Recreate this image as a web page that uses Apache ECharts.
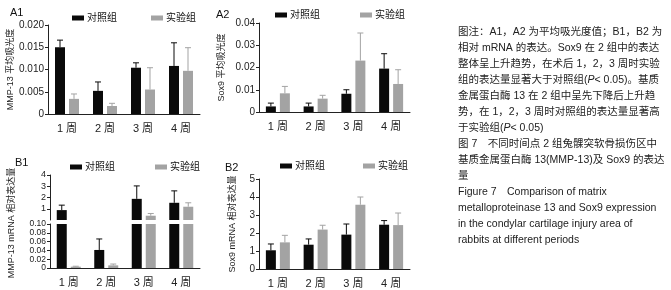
<!DOCTYPE html>
<html><head><meta charset="utf-8">
<script src="https://cdn.jsdelivr.net/npm/echarts@6/dist/echarts.min.js"></script>
<style>html,body{margin:0;padding:0;background:#fff}#c{width:671px;height:290px}</style>
</head><body><div id="c"></div>
<script>
const categories = ['1 周', '2 周', '3 周', '4 周'];
const groups = ['对照组', '实验组'];
// A1: MMP-13 mean optical density
const a1Control = [0.0150, 0.0052, 0.0104, 0.0108];
const a1ControlSD = [0.0016, 0.0020, 0.0011, 0.0052];
const a1Exp = [0.0034, 0.0018, 0.0055, 0.0097];
const a1ExpSD = [0.0011, 0.0006, 0.0049, 0.0052];
// A2: Sox9 mean optical density
const a2Control = [0.0025, 0.0025, 0.0082, 0.0195];
const a2ControlSD = [0.0015, 0.0015, 0.0018, 0.0067];
const a2Exp = [0.0084, 0.0060, 0.0231, 0.0126];
const a2ExpSD = [0.0031, 0.0015, 0.0124, 0.0064];
// B1: MMP-13 mRNA relative expression
const b1Control = [0.88, 0.041, 1.88, 1.53];
const b1ControlSD = [0.44, 0.025, 1.15, 1.06];
const b1Exp = [0.003, 0.006, 0.38, 1.18];
const b1ExpSD = [0.001, 0.003, 0.20, 0.35];
// B2: Sox9 mRNA relative expression
const b2Control = [1.04, 1.35, 1.91, 2.46];
const b2ControlSD = [0.35, 0.32, 0.59, 0.23];
const b2Exp = [1.48, 2.19, 3.57, 2.44];
const b2ExpSD = [0.39, 0.24, 0.43, 0.67];
// tick labels
const a1Ticks = [0, 0.005, 0.010, 0.015, 0.020];
const a2Ticks = [0, 0.01, 0.02, 0.03, 0.04];
const b1TopTicks = [1, 2, 3, 4];
const b1BottomTicks = [0, 0.02, 0.04, 0.06, 0.08, 0.10];
const b2Ticks = [0, 1, 2, 3, 4, 5];

const captionLines = [
  [{t:'图注：A1，A2 为平均吸光度值；B1，B2 为'}],
  [{t:'相对 mRNA 的表达。Sox9 在 2 组中的表达'}],
  [{t:'整体呈上升趋势，在术后 1，2，3 周时实验'}],
  [{t:'组的表达量显著大于对照组('},{t:'P',i:1},{t:'< 0.05)。基质'}],
  [{t:'金属蛋白酶 13 在 2 组中呈先下降后上升趋'}],
  [{t:'势，在 1，2，3 周时对照组的表达量显著高'}],
  [{t:'于实验组('},{t:'P',i:1},{t:'< 0.05)'}],
  [{t:'图 7　不同时间点 2 组兔髁突软骨损伤区中'}],
  [{t:'基质金属蛋白酶 13(MMP-13)及 Sox9 的表达'}],
  [{t:'量'}],
  [{t:'Figure 7　Comparison of matrix'}],
  [{t:'metalloproteinase 13 and Sox9 expression'}],
  [{t:'in the condylar cartilage injury area of'}],
  [{t:'rabbits at different periods'}]
];

const FONT = '"Liberation Sans", Arial, "Noto Sans CJK SC", sans-serif';
const BLACK = '#0a0a0a', GREY = '#a3a3a3';

const chart = echarts.init(document.getElementById('c'));

function xAx(grid, show) {
  return {
    type: 'category', gridIndex: grid, data: categories, show: show,
    axisLine: {lineStyle: {color: '#222', width: 1}},
    axisTick: {show: false},
    axisLabel: {fontSize: 11, color: '#222', fontFamily: FONT, margin: 9}
  };
}
function yAx(grid, ticks, fmt, fs, extra) {
  const interval = ticks[1] - ticks[0];
  return Object.assign({
    type: 'value', gridIndex: grid, min: 0,
    max: ticks[ticks.length - 1], interval: interval,
    axisLine: {show: true, lineStyle: {color: '#222', width: 1}},
    axisTick: {show: true, length: 3, lineStyle: {color: '#222'}, customValues: ticks},
    splitLine: {show: false},
    axisLabel: {fontSize: fs, lineHeight: fs - 1, color: '#222', fontFamily: FONT, margin: 4, formatter: fmt,
      interval: 0, customValues: ticks, showMinLabel: true, showMaxLabel: true, hideOverlap: false},
    nameTextStyle: {fontSize: 9, color: '#222', fontFamily: FONT}
  }, extra || {});
}

function errRender(offset, color, lo, hi) {
  return function (params, api) {
    const i = api.value(0), m = api.value(1), s = api.value(2);
    if (m < lo || m > hi) return null;
    const top = Math.min(m + s, hi);
    const p0 = api.coord([i, m]);
    const p1 = api.coord([i, top]);
    const x = p0[0] + offset;
    return {
      type: 'group', children: [
        {type: 'line', shape: {x1: x, y1: p0[1], x2: x, y2: p1[1]}, style: {stroke: color, lineWidth: 1}},
        {type: 'line', shape: {x1: x - 3, y1: p1[1], x2: x + 3, y2: p1[1]}, style: {stroke: color, lineWidth: 1}}
      ]
    };
  };
}

function barPair(axisIdx, ctrl, exp, clipMin) {
  const filt = (arr) => arr.map(v => (clipMin != null && v < clipMin) ? null : v);
  return [
    {name: groups[0], type: 'bar', xAxisIndex: axisIdx, yAxisIndex: axisIdx, data: filt(ctrl),
     barWidth: 10, barGap: '40%', itemStyle: {color: BLACK}, clip: true, silent: true},
    {name: groups[1], type: 'bar', xAxisIndex: axisIdx, yAxisIndex: axisIdx, data: filt(exp),
     barWidth: 10, barGap: '40%', itemStyle: {color: GREY}, clip: true, silent: true}
  ];
}
function errPair(axisIdx, ctrl, ctrlSD, exp, expSD, lo, hi) {
  const mk = (m, s) => m.map((v, i) => [i, v, s[i]]);
  return [
    {type: 'custom', xAxisIndex: axisIdx, yAxisIndex: axisIdx, data: mk(ctrl, ctrlSD), z: 3, silent: true,
     encode: {x: 0, y: 1}, renderItem: errRender(-7, BLACK, lo, hi)},
    {type: 'custom', xAxisIndex: axisIdx, yAxisIndex: axisIdx, data: mk(exp, expSD), z: 3, silent: true,
     encode: {x: 0, y: 1}, renderItem: errRender(7, GREY, lo, hi)}
  ];
}

function legend(left, top, gap) {
  return {
    left: left, top: top, itemGap: gap, icon: 'rect', itemWidth: 12, itemHeight: 5,
    data: groups, selectedMode: false,
    textStyle: {fontSize: 10, color: '#111', fontFamily: FONT, padding: [0, 0, 0, -2]}
  };
}

const graphic = [];
const labels = [['A1', 10, 13], ['A2', 216, 15], ['B1', 15, 163], ['B2', 225, 168]];
labels.forEach(l => graphic.push({type: 'text', x: l[1], y: l[2],
  style: {text: l[0], font: '11px ' + FONT, fill: '#111', verticalAlign: 'middle'}}));
graphic.push({type: 'text', x: 12, y: 223, rotation: Math.PI / 2,
  style: {text: 'MMP-13 mRNA 相对表达量', font: '9px ' + FONT, fill: '#222', align: 'center', verticalAlign: 'middle'}});
captionLines.forEach((segs, k) => {
  const text = segs.map(s => s.i ? '{i|' + s.t + '}' : s.t).join('');
  graphic.push({type: 'text', x: 458, y: 32 + 16 * k,
    style: {text: text, font: '10.5px ' + FONT, fill: '#222', verticalAlign: 'middle',
      rich: {i: {fontStyle: 'italic', fontSize: 10.5, fontFamily: FONT, fill: '#222'}}}});
});

const option = {
  animation: false,
  backgroundColor: '#fff',
  grid: [
    {left: 48, top: 25, width: 152, height: 89},
    {left: 259, top: 23, width: 151, height: 89},
    {left: 50, top: 175, width: 150, height: 45},
    {left: 50, top: 224, width: 150, height: 44},
    {left: 259, top: 179, width: 151, height: 90}
  ],
  legend: [legend(67, 8, 34), legend(270, 5, 40), legend(65, 157, 40), legend(275, 156, 38)],
  xAxis: [xAx(0, true), xAx(1, true), xAx(2, false), xAx(3, true), xAx(4, true)],
  yAxis: [
    yAx(0, a1Ticks, v => v === 0 ? '0' : v.toFixed(3), 10,
      {name: 'MMP-13 平均吸光度', nameLocation: 'middle', nameGap: 33}),
    yAx(1, a2Ticks, v => v === 0 ? '0' : v.toFixed(2), 10,
      {name: 'Sox9 平均吸光度', nameLocation: 'middle', nameGap: 33}),
    yAx(2, b1TopTicks, v => String(v), 9),
    yAx(3, b1BottomTicks, v => v === 0 ? '0' : v.toFixed(2), 8.5),
    yAx(4, b2Ticks, v => String(v), 10,
      {name: 'Sox9 mRNA 相对表达量', nameLocation: 'middle', nameGap: 22})
  ],
  graphic: graphic,
  series: [].concat(
    barPair(0, a1Control, a1Exp), errPair(0, a1Control, a1ControlSD, a1Exp, a1ExpSD, 0, 1),
    barPair(1, a2Control, a2Exp), errPair(1, a2Control, a2ControlSD, a2Exp, a2ExpSD, 0, 1),
    barPair(2, b1Control, b1Exp, 0.1), errPair(2, b1Control, b1ControlSD, b1Exp, b1ExpSD, 0.1, 4),
    barPair(3, b1Control, b1Exp), errPair(3, b1Control, b1ControlSD, b1Exp, b1ExpSD, 0, 0.1),
    barPair(4, b2Control, b2Exp), errPair(4, b2Control, b2ControlSD, b2Exp, b2ExpSD, 0, 10)
  )
};
chart.setOption(option);
</script></body></html>
